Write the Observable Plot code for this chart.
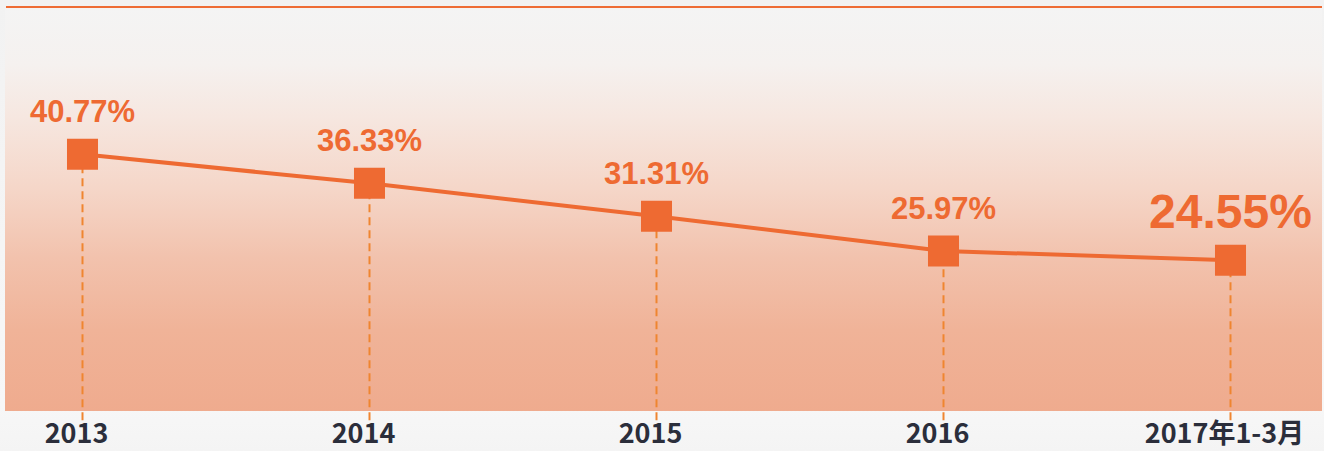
<!DOCTYPE html>
<html>
<head>
<meta charset="utf-8">
<script src="https://cdn.jsdelivr.net/npm/d3@7"></script>
<script src="https://cdn.jsdelivr.net/npm/@observablehq/plot@0.6"></script>
<style>
  html, body { margin: 0; padding: 0; background: #f3f3f3; }
  #wrap { position: relative; width: 1324px; height: 451px; overflow: hidden;
          background: linear-gradient(to bottom, #f2f2f2 0%, #f7f7f7 90%, #f4f4f4 100%); }
  #panel { position: absolute; left: 5px; top: 8px; width: 1317px; height: 403px;
           background: linear-gradient(to bottom,
             #f4f4f4 0%, #f5f1ef 14%, #f6e7e0 27%, #f5d6c8 45%, #f2c2ad 62%, #f0b398 80%, #efab8e 100%); }
  #topline { position: absolute; left: 6px; top: 6px; width: 1316px; height: 2px; background: #ee6c35; }
  #chart { position: absolute; left: 0; top: 0; }
</style>
</head>
<body>
<div id="wrap">
  <div id="panel"></div>
  <div id="topline"></div>
  <div id="chart"></div>
</div>
<script>
const years = ["2013", "2014", "2015", "2016", "2017年1-3月"];
const rates = [40.77, 36.33, 31.31, 25.97, 24.55];
const rateLabels = ["40.77%", "36.33%", "31.31%", "25.97%", "24.55%"];

const data = years.map((year, i) => ({year, rate: rates[i], label: rateLabels[i]}));
const orange = "#ee6a32";

const axisMark = Plot.axisX
  ? Plot.axisX({tickSize: 0, tickPadding: 12, dx: -6, fontSize: 27, fontWeight: "bold",
      fontFamily: "'Noto Sans CJK SC', sans-serif", fill: "#2b2e3b", label: null})
  : Plot.text(data, {x: "year", text: "year", frameAnchor: "bottom", dy: 32, dx: -6,
      fontSize: 27, fontWeight: "bold", fontFamily: "'Noto Sans CJK SC', sans-serif", fill: "#2b2e3b"});

const chart = Plot.plot({
  width: 1324,
  height: 451,
  marginTop: 8,
  marginBottom: 40,
  marginLeft: 81,
  marginRight: 94,
  style: {background: "transparent", overflow: "visible"},
  x: {type: "point", domain: years, padding: 0, axis: null},
  y: {domain: [1.4, 63.1], axis: null},
  marks: [
    Plot.ruleX(data, {x: "year", y1: "rate", stroke: "#ef8530", strokeWidth: 2,
      strokeDasharray: "8,5"}),
    Plot.line(data, {x: "year", y: "rate", stroke: orange, strokeWidth: 4}),
    Plot.dot(data, {x: "year", y: "rate", symbol: "square", r: 17.5, fill: orange, stroke: "none"}),
    Plot.text(data.slice(0, 4), {x: "year", y: "rate", text: "label", dy: -32, lineAnchor: "bottom",
      fontSize: 31, fontWeight: "bold", fontFamily: "'Liberation Sans', Arial, sans-serif", fill: orange}),
    Plot.text(data.slice(4), {x: "year", y: "rate", text: "label", dy: -32, lineAnchor: "bottom",
      fontSize: 48, fontWeight: "bold", fontFamily: "'Liberation Sans', Arial, sans-serif", fill: orange}),
    axisMark
  ]
});
document.getElementById("chart").appendChild(chart);
</script>
</body>
</html>
